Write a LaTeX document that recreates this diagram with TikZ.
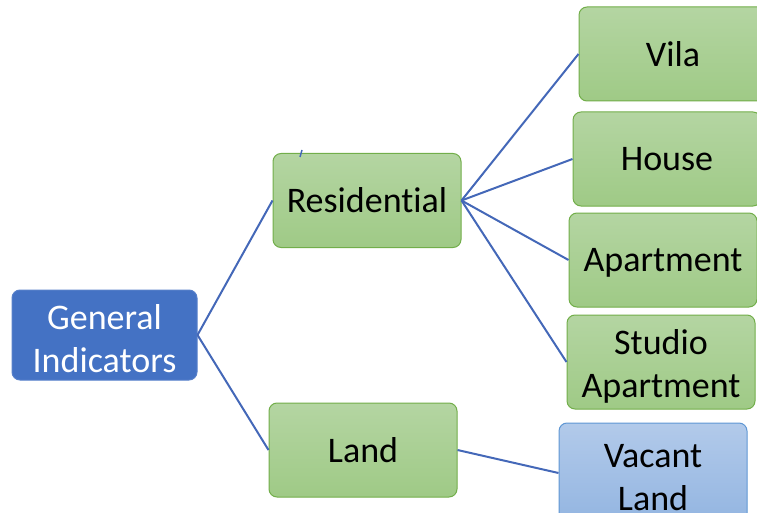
\documentclass[tikz,border=0pt]{standalone}
\usepackage{fontspec}
\setmainfont{Carlito}[Ligatures=NoCommon]
\definecolor{linec}{HTML}{4468B8}
\definecolor{gtop}{HTML}{B4D5A2}
\definecolor{gbot}{HTML}{9FCA86}
\definecolor{gborder}{HTML}{72AE4A}
\definecolor{btop}{HTML}{B2CAEA}
\definecolor{bbot}{HTML}{93B5E1}
\definecolor{bborder}{HTML}{5F97D4}
\definecolor{mainblue}{HTML}{4472C4}
\begin{document}
\begin{tikzpicture}[x=1pt,y=-1pt,
  box/.style={rounded corners=8pt, minimum width=188pt, minimum height=94pt, inner sep=0pt, align=center, font=\fontsize{36}{43}\selectfont, line width=1pt},
  greenbox/.style={box, draw=gborder, top color=gtop, bottom color=gbot, text=black},
  bluebox/.style={box, minimum height=100pt, draw=bborder, top color=btop, bottom color=bbot, text=black},
  rootbox/.style={box, minimum width=185pt, minimum height=90pt, draw=mainblue!90!white, fill=mainblue, text=white},
  twoline/.style={text height=76pt},
  conn/.style={draw=linec, line width=2pt}]
\useasboundingbox (0,0) rectangle (757,513);
\node[rootbox, twoline] (gi) at (104.5,335) {General\\Indicators};
\node[greenbox] (res) at (367,200.5) {Residential};
\node[greenbox] (land) at (363,450) {Land};
\node[greenbox] (vila) at (673,54) {Vila};
\node[greenbox] (house) at (667,159) {House};
\node[greenbox] (apt) at (663,260) {\raisebox{-3pt}[\height][\depth]{Apartment}};
\node[greenbox, twoline] (studio) at (661,362) {Studio\\Apartment};
\node[bluebox, twoline] (vacant) at (653,473) {Vacant\\Land};
\draw[conn] (gi.east) -- (res.west);
\draw[conn] (gi.east) -- (land.west);
\draw[conn] (res.east) -- (vila.west);
\draw[conn] (res.east) -- (house.west);
\draw[conn] (res.east) -- (apt.west);
\draw[conn] (res.east) -- (studio.west);
\draw[conn] (land.east) -- (vacant.west);
\coordinate (t1) at (300,157);
\coordinate (t2) at (302,150);
\draw[conn, line width=1.5pt] (t1) -- (t2);
\end{tikzpicture}
\end{document}
